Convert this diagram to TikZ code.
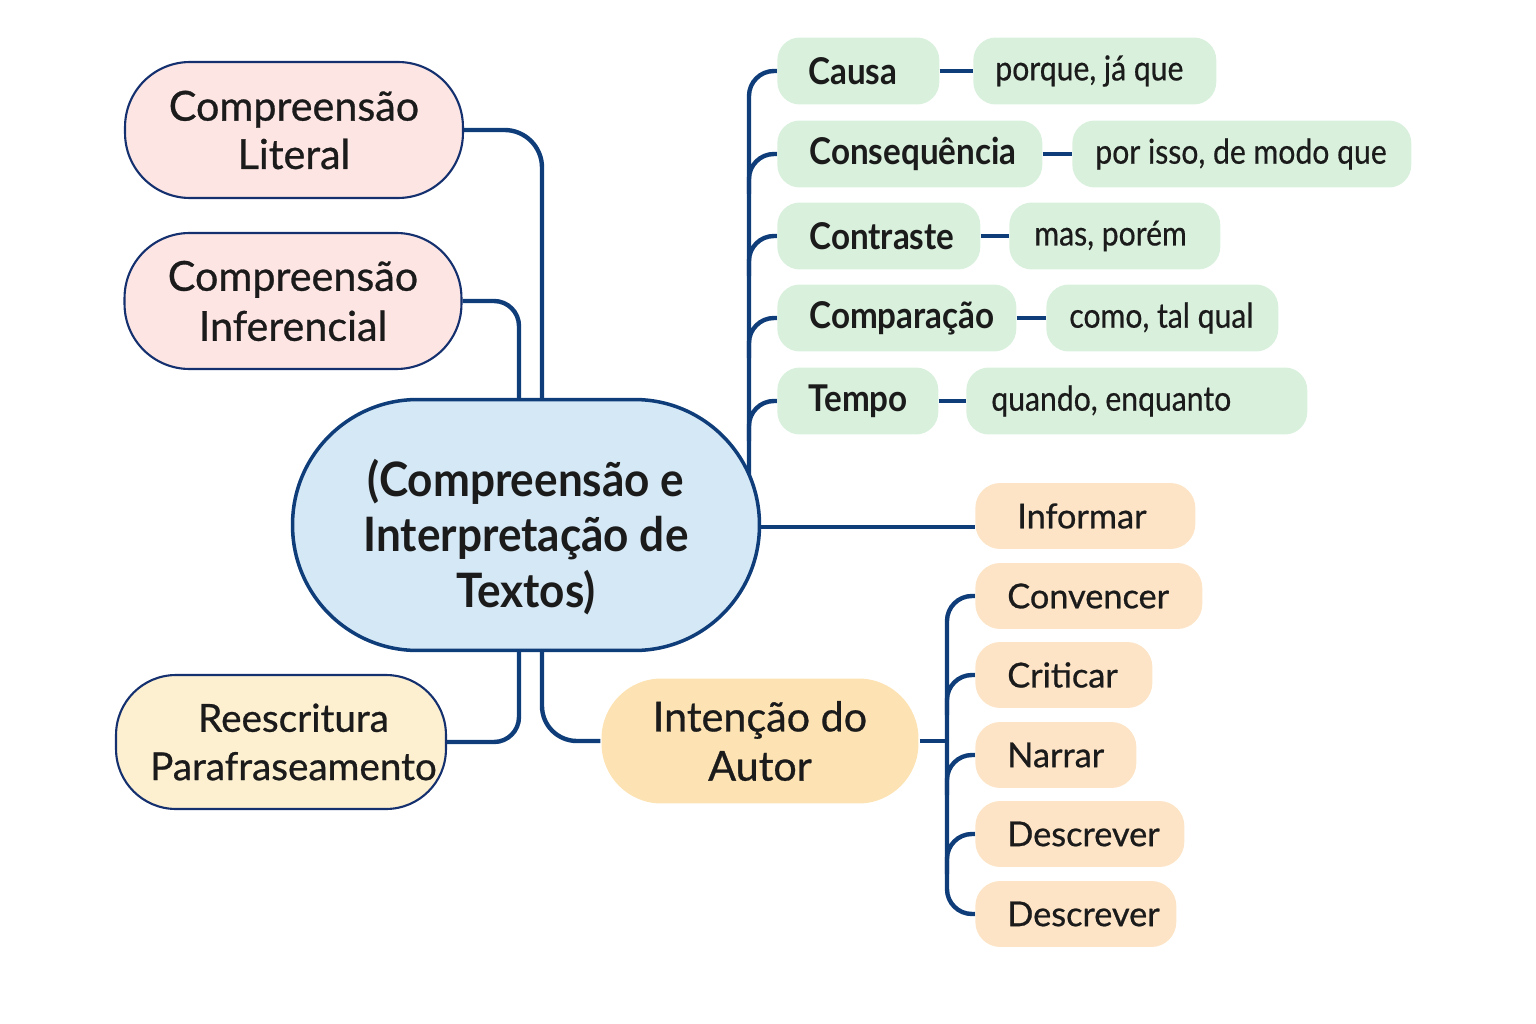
\documentclass[tikz,border=0pt]{standalone}
\usepackage{fontspec}
\setmainfont[FakeBold=0.7]{Lato}
\newfontfamily\cenfont[FakeStretch=0.93]{Lato}
\newfontfamily\gfont[FakeStretch=0.9]{Lato}
\newfontfamily\gexfont[FakeStretch=0.88,FakeBold=0.5]{Lato}
\usetikzlibrary{backgrounds,calc}
\definecolor{navy}{HTML}{0F3D7A}
\definecolor{bord}{HTML}{14306E}
\definecolor{ink}{HTML}{1B1B1B}
\definecolor{pinkf}{HTML}{FDE5E3}
\definecolor{bluef}{HTML}{D5E8F5}
\definecolor{creamf}{HTML}{FDF0D0}
\definecolor{intf}{HTML}{FDE2B3}
\definecolor{greenf}{HTML}{D8F0DC}
\definecolor{orangef}{HTML}{FDE4C6}
\newcommand\bx[2]{\makebox[#1][l]{#2}}
\tikzset{
  conn/.style={draw=navy, line width=2.5pt, rounded corners=0.5cm},
  pill/.style={draw=bord, line width=1.2pt, text=ink, align=center, inner sep=0pt},
  gbox/.style={fill=greenf, rounded corners=0.45cm, minimum height=1.34cm, text=ink, anchor=west, inner ysep=0pt},
  glab/.style={gbox, font=\gfont\bfseries\fontsize{21}{25}\selectfont},
  gex/.style={gbox, font=\gexfont\fontsize{19.5}{23}\selectfont},
  obox/.style={fill=orangef, rounded corners=0.5cm, minimum height=1.32cm, text=ink, anchor=west, inner ysep=0pt, font=\fontsize{19.5}{23}\selectfont},
}
\begin{document}
\begin{tikzpicture}[x=0.02cm, y=-0.02cm]
\useasboundingbox (0,0) rectangle (1536,1024);

% main nodes
\node[pill, fill=bluef, line width=2pt, draw=navy, minimum width=9.34cm, minimum height=5.02cm, rounded corners=2.5cm,
  font=\cenfont\bfseries\fontsize{27}{31.5}\selectfont] (cen) at (526,525) {\rule{0pt}{1.22cm}(Compreensão e\\Interpretação de\\Textos)};
\node[pill, fill=pinkf, minimum width=6.76cm, minimum height=2.72cm, rounded corners=1.3cm,
  font=\fontsize{23.5}{27.5}\selectfont] (lit) at (294,130) {Compreensão\\Literal};
\node[pill, fill=pinkf, minimum width=6.74cm, minimum height=2.72cm, rounded corners=1.3cm,
  font=\fontsize{23.5}{28.5}\selectfont] (inf) at (293,301) {Compreensão\\Inferencial};
\node[pill, fill=creamf, minimum width=6.6cm, minimum height=2.68cm, rounded corners=1.2cm,
  font=\fontsize{22}{27.5}\selectfont] (ree) at (281,742) {\hspace*{0.5cm}Reescritura\\\hspace*{0.5cm}Parafraseamento};
\node[pill, draw=none, fill=intf, minimum width=6.34cm, minimum height=2.5cm, rounded corners=1.2cm,
  font=\fontsize{23.5}{28}\selectfont] (int) at (760,741) {Intenção do\\Autor};

% green label boxes
\node[glab, inner xsep=0.62cm] (causa) at (777,71) {\bx{2.0cm}{Causa}};
\node[glab, inner xsep=0.64cm] (cons) at (777,154) {\bx{4.02cm}{Consequência}};
\node[glab, inner xsep=0.64cm] (contr) at (777,236) {\bx{2.78cm}{Contraste}};
\node[glab, inner xsep=0.64cm] (comp) at (777,318) {\bx{3.5cm}{Comparação}};
\node[glab, inner xsep=0.62cm] (tempo) at (777,401) {\bx{1.98cm}{Tempo}};
% green example boxes
\node[gex, inner xsep=0.44cm] (ex1) at (973,71) {\bx{3.98cm}{porque, já que}};
\node[gex, inner xsep=0.46cm] (ex2) at (1072,154) {\bx{5.86cm}{por isso, de modo que}};
\node[gex, inner xsep=0.5cm] (ex3) at (1009,236) {\bx{3.22cm}{mas, porém}};
\node[gex, inner xsep=0.46cm] (ex4) at (1046,318) {\bx{3.72cm}{como, tal qual}};
\node[gex, inner xsep=0.5cm] (ex5) at (966,401) {\bx{5.82cm}{quando, enquanto}};

% orange boxes
\node[obox, inner xsep=0.84cm] (info) at (975,516) {\bx{2.72cm}{Informar}};
\node[obox, inner xsep=0.64cm] (conv) at (975,596) {\bx{3.26cm}{Convencer}};
\node[obox, inner xsep=0.64cm] (crit) at (975,675) {\bx{2.26cm}{Criticar}};
\node[obox, inner xsep=0.64cm] (narr) at (975,755) {\bx{1.94cm}{Narrar}};
\node[obox, inner xsep=0.64cm] (des1) at (975,834) {\bx{2.9cm}{Descrever}};
\node[obox, inner xsep=0.64cm] (des2) at (975,914) {\bx{2.74cm}{Descrever}};

\coordinate (gt) at (749,500);
\coordinate (ot) at (947,741);

\begin{scope}[on background layer]
% left side
\draw[conn, rounded corners=0.75cm] (lit.east) -| ([xshift=0.32cm]cen.north);
\draw[conn] (inf.east) -| ([xshift=-0.14cm]cen.north);
\draw[conn] (ree.east) -| ([xshift=-0.14cm]cen.south);
\draw[conn, rounded corners=0.7cm] (int.west) -| ([xshift=0.32cm]cen.south);
% green trunk
\draw[conn] (causa.west) -| (gt);
\foreach \n in {cons,contr,comp,tempo}
  \draw[conn] (\n.west) -| ($(gt |- \n.west)+(0,40)$);
\draw[conn] (causa.east) -- (ex1.west);
\draw[conn] (cons.east) -- (ex2.west);
\draw[conn] (contr.east) -- (ex3.west);
\draw[conn] (comp.east) -- (ex4.west);
\draw[conn] (tempo.east) -- (ex5.west);
% informar
\draw[conn] ([yshift=-0.04cm]cen.east) -- ([yshift=-0.04cm]cen.east -| info.west);
% orange trunk
\draw[conn] (int.east) -- (ot);
\draw[conn] (conv.west) -| (ot) |- (des2.west);
\foreach \n in {crit,narr,des1}
  \draw[conn] (\n.west) -| ($(ot |- \n.west)+(0,40)$);
\end{scope}
\end{tikzpicture}
\end{document}
